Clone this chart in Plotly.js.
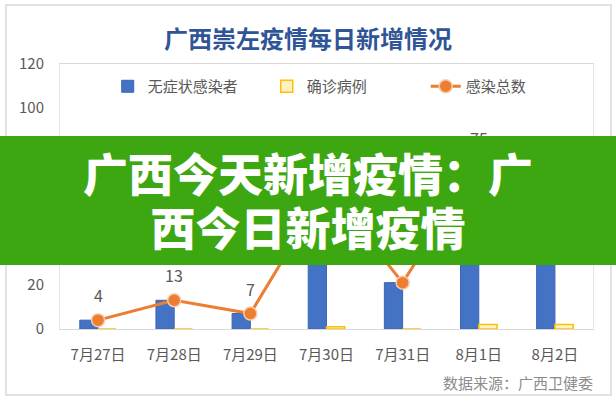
<!DOCTYPE html>
<html>
<head>
<meta charset="utf-8">
<script src="https://cdn.plot.ly/plotly-3.0.1.min.js"></script>
<style>
  body { margin: 0; background: #ffffff; }
  #wrap { position: relative; width: 616px; height: 400px; overflow: hidden; }
  #myDiv { position: absolute; left: 0; top: 0; width: 616px; height: 400px; }
  #frame {
    position: absolute; left: 5px; top: 4px; width: 603px; height: 388px;
    border: 2px solid #e2e2e2; pointer-events: none;
  }
  #banner {
    position: absolute; left: 0; top: 136px; width: 616px; height: 129px;
    background: #3da712; color: #ffffff; text-align: center;
    font-family: "Noto Sans CJK SC", "Noto Sans", sans-serif;
    font-weight: 900; font-size: 45px; line-height: 54px;
    padding-top: 10px; box-sizing: border-box;
  }
</style>
</head>
<body>
<div id="wrap">
  <div id="myDiv"></div>
  <div id="frame"></div>
  <div id="banner">广西今天新增疫情：广<br>西今日新增疫情</div>
</div>
<script>
var categories = ['7月27日', '7月28日', '7月29日', '7月30日', '7月31日', '8月1日', '8月2日'];
var asymptomatic = [4, 13, 7, 63, 21, 73, 57];
var confirmed = [0, 0, 0, 1, 0, 2, 2];
var total = [4, 13, 7, 64, 21, 75, 59];

var cjk = '"Noto Sans CJK SC", "Noto Sans", sans-serif';
var gray = '#595959';

var trace1 = {
  x: categories,
  y: asymptomatic,
  name: '无症状感染者',
  type: 'bar',
  marker: { color: '#4472c4', line: { color: '#3a66b5', width: 1 } },
  hoverinfo: 'skip'
};

var trace2 = {
  x: categories,
  y: confirmed,
  name: '确诊病例',
  type: 'bar',
  marker: { color: '#fff2c2', line: { color: '#ffc000', width: 1.5 } },
  hoverinfo: 'skip'
};

var trace3 = {
  x: categories,
  y: total,
  name: '感染总数',
  type: 'scatter',
  mode: 'lines+markers',
  line: { color: '#ed7d31', width: 3 },
  marker: { color: '#ed7d31', size: 13, line: { color: '#f8cbad', width: 1.5 } },
  hoverinfo: 'skip'
};

// labels above the line points
var labels = categories.map(function (c, i) {
  return {
    x: c, y: total[i], xref: 'x', yref: 'y',
    text: String(total[i]), showarrow: false, yshift: 25,
    font: { family: cjk, size: 16, color: gray }
  };
});

labels.push({
  xref: 'paper', yref: 'paper', x: 1.004, y: -0.2,
  xanchor: 'right', yanchor: 'middle',
  text: '数据来源：广西卫健委', showarrow: false,
  font: { family: cjk, size: 15, color: '#8c8c8c' }
});

var layout = {
  width: 616,
  height: 400,
  margin: { l: 60, r: 23, t: 64, b: 71 },
  paper_bgcolor: '#ffffff',
  plot_bgcolor: '#ffffff',
  font: { family: cjk, color: gray },
  title: {
    text: '<b>广西崇左疫情每日新增情况</b>',
    x: 0.5, xref: 'container', y: 0.9, yanchor: 'middle',
    font: { family: cjk, size: 24, color: '#2f5597' }
  },
  barmode: 'group',
  bargap: 0.52,
  bargroupgap: 0,
  xaxis: {
    type: 'category',
    showgrid: false,
    showline: true, mirror: true, linecolor: '#d9d9d9', linewidth: 1,
    ticks: '',
    ticklabelstandoff: 12,
    tickfont: { family: cjk, size: 15, color: gray }
  },
  yaxis: {
    range: [0, 120],
    dtick: 20,
    showgrid: false,
    zeroline: false,
    showline: true, mirror: true, linecolor: '#e4e4e4', linewidth: 1,
    ticks: '',
    ticklabelstandoff: 12,
    tickfont: { family: cjk, size: 15, color: gray }
  },
  legend: {
    orientation: 'h',
    x: 0.537, xanchor: 'center',
    y: 0.915, yanchor: 'middle',
    entrywidth: 114,
    bgcolor: 'rgba(0,0,0,0)',
    font: { family: cjk, size: 15, color: gray }
  },
  annotations: labels
};

Plotly.newPlot('myDiv', [trace1, trace2, trace3], layout, { displayModeBar: false, staticPlot: true });
</script>
</body>
</html>
